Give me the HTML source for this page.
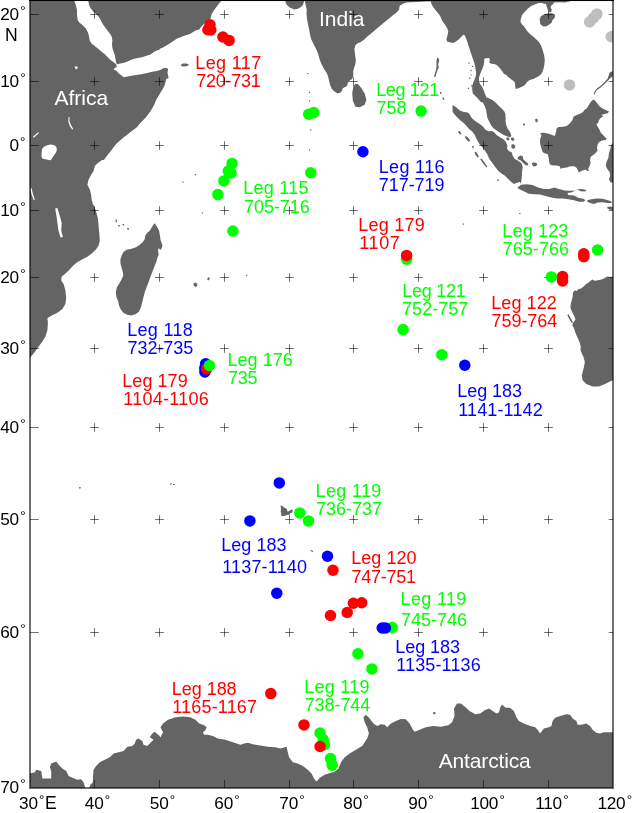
<!DOCTYPE html>
<html lang="en"><head><meta charset="utf-8"><title>ODP Indian Ocean drill sites</title>
<style>
html,body{margin:0;padding:0;background:#fff}
body{width:634px;height:813px;overflow:hidden}
svg{display:block}
text{font-family:"Liberation Sans",Arial,Helvetica,sans-serif;white-space:pre}
</style></head><body>
<svg width="634" height="813" viewBox="0 0 634 813">
<defs><clipPath id="c"><rect x="30" y="0" width="583" height="788"/></clipPath></defs>
<rect width="634" height="813" fill="#fff"/>
<g clip-path="url(#c)">
<path fill="#646464" fill-rule="evenodd" d="M286.5,4.4L289.7,7.6L294.1,9.5L297.9,8.8L301,6.9L302.9,5L303.9,1.9L304.2,-2L284.6,-2L285.3,1.3ZM210.4,18.7L211.7,13.7L214.2,10L217.9,5L220.9,1.2L220.9,-2L159.8,-2L158,-2L88.4,-2L88.4,1.3L89,5L90.9,8.8L93.4,11.4L96,13.9L98.5,16.4L100.4,19.6L102.3,23.3L104.8,27.1L107.3,30.3L109.8,33.4L111.7,36.6L112.4,40.4L112,44.2L112.4,48L113.6,51.7L114.9,55.5L115.5,59.3L116.2,62.5L116.8,64.3L119.3,63.7L123.1,63.1L126.9,61.8L130.7,59.9L134.4,58.7L140,57.4L141,57.5L145.8,56L150.5,54.4L153.8,52.1L156.8,50.5L158,49.8L158,50.3L159.8,49.4L159.8,48.7L163,47.4L168,44.4L173,41.2L176.7,38.7L183,36.2L190.4,33.7L195.4,30.4L199.2,29.5L201.7,26.2L205.4,22.5ZM180.5,64.9L182.5,66.4L186.7,66.2L189.2,64.9L186.7,63.6L183,63.6ZM307.2,73L307.2,74.2L308.4,74.2L308.4,73ZM31.2,356.3L35,351.8L38.7,346.5L42.4,341.5L45.4,336.6L47.4,330.3L47.9,322.8L47.4,318.3L51.2,315.8L57.4,312.8L62.4,309.1L65.4,304.1L66.2,297.9L65.4,290.4L63.6,284.1L61.2,280.4L61.7,276.6L64.9,274.1L68.7,270.4L72.4,266.6L76.1,262.9L81.1,259.9L87.4,256.7L92.4,252.9L96.1,249.2L98.6,245.4L99.8,240.4L99.3,233L98.6,225.5L97.8,218L96.1,211.7L94.4,206.7L92.4,203L92.4,201L91.9,201L91.1,194.7L89.9,189.7L87.4,184.7L88.6,179.7L91.1,174.7L93.6,171L94.9,166L97.3,163.5L102,160L103.9,160L105.5,157.8L107.9,154.6L111,150.7L113.4,147.5L116.6,143.6L119.7,140.8L122.9,138.1L126.8,134.9L130.8,131.8L133.9,129.4L137.1,127L139.4,123.9L142.6,120.7L145.7,117.6L148.1,114.4L150.8,110.8L152.8,107.3L154.4,104.2L156,100.2L158.4,96.3L160.7,92.3L163.1,88.4L164.7,85.2L165.5,82.1L166.2,78.9L168.6,78.1L168.1,75.8L167.5,72.6L168.1,69.5L167,67.9L163.9,67.9L160.7,69.8L156.8,71L152.1,71.8L147.3,72.9L141,74.2L136.3,75L131.6,75.8L127.6,76.6L123.7,77.3L118.9,73.4L115.8,70.2L113.6,69.9L115.2,67.5L116.1,67.5L116.8,66.9L116.2,64.3L113,61.8L110.5,59.9L108,57.4L104.8,54.3L101.6,51.7L97.8,48.6L94.1,45.4L91.5,43.5L89.7,40.4L89,36L87.8,32.2L85.9,28.4L82.7,25.2L79.6,22.7L77.7,20.2L77,15.1L77,10.1L75.8,5L74.5,1.3L74.5,-2L70,-2L30,-2L30,358.2ZM74.4,66.4L77.9,66.4L77.4,68.4L75.9,69.4ZM68.3,121.5L68.5,117L69.5,117L69.4,120.8L70.7,124.6L73,128.4L72.4,129.7L69.8,125.9ZM33.8,137.8L33,136.8L38.1,132.3L38.9,133.1ZM42,149.2L43.9,146.7L47.1,145.2L50.9,144.4L54.6,145.2L56.5,147.3L56.8,150.5L55.3,153.6L53.4,156.2L52.1,158.3L50.9,160.3L48.3,159.9L45.8,159.3L42.7,158.7L41.4,156.2L41.7,152.4ZM31.6,194.6L30.3,188.3L31.6,188.3L32.8,193.4L34.8,199.7L33.6,199.9ZM56.4,215.5L55.2,208.5L57.4,208L59.7,215.5L61.7,223L61.2,230.5L62.9,236.7L60.7,237.7L58.4,230.5L57.4,223ZM194.8,175.3L196,175.3L196,174.1L194.8,174.1ZM182.4,182.8L183.6,182.8L183.6,181.6L182.4,181.6ZM201.8,212.4L201.8,213.6L203,213.6L203,212.4ZM115.4,219.4L115.8,222.6L117,222.3L116.7,219.4ZM122.5,224.1L122.7,225.6L124.2,225.6L124,224.1ZM118.2,226.4L119.7,226.4L119.7,225.1L118.2,225.1ZM127.3,229.6L128.8,229.9L128.8,228.1L127,227.9ZM123.3,252.2L121.7,255.4L120.4,259.2L120.4,262.9L121.5,267.4L122.7,271.8L123.3,275.6L121.5,279.4L119.6,283.1L117,286.9L115.8,292L116.4,297L118.3,301.4L118.9,305.2L120.8,309.6L123.3,312.8L127.1,314.7L131.6,315.4L136,314.1L139.1,311.5L141,307.1L142.3,302.1L143.5,297L144.8,292L146.7,286.9L148.6,281.9L150.5,276.8L152.4,271.8L154.3,266.7L156.2,262.3L157.4,257.9L158.7,254.1L158,251L158.7,248.1L160.3,250.1L161.6,248.4L162.5,245.3L160.6,240.2L159.9,235.2L159.1,230.8L156.8,226.4L154.9,223.2L153.6,224.5L151.7,227.6L149.8,230.8L147.3,232.7L145.4,235.2L144.8,239L142.9,242.1L139.8,244.7L136,247.2L131.6,248.8L126.5,249.7ZM246,274.8L246,276L247.2,276L247.2,274.8ZM206.9,278.9L208.7,280.4L209.9,278.6L208.9,277.1ZM193.7,285.6L195.4,286.9L197.2,285.9L197.4,283.9L195.4,282.6L193.4,283.4ZM170,483.6L170,484.6L172,484.6L172,483.6ZM173,484.1L173,484.9L174.7,484.9L174.7,484.1ZM79.1,486.9L79.1,488.4L80.6,488.4L80.6,486.9ZM292.1,512.7L292.9,510.8L292.1,509.6L290.5,510L288.9,511.2L287.4,511.6L287,509.2L285.4,508L283.8,507.6L282.6,506L280.6,505.6L281,509.2L280.6,512L281.4,513.1L281,515.1L281.8,516.3L283.4,515.9L285.4,515.7L287,514.7L288.5,515.1L289.7,514.3L290.5,513.1ZM287.8,752.3L286.6,746.8L280.3,748.5L275.3,747.3L267.8,746.8L260.4,745.5L252.9,744.3L247.9,742.8L244.1,743.5L240.4,744.8L232.9,742.3L225.4,739.8L217.9,738.6L212.9,736.1L207.9,734.8L204.2,734.8L202.9,732.3L205.4,730.3L206.7,727.3L204.2,725.3L199.2,723.6L195.4,719.8L190.4,717.3L183,716.6L175.5,717.3L168,719.8L163,723.6L160.5,727.3L163,732.3L160.5,737.3L159.8,736.9L159.8,736.1L158,734.8L154.8,731.8L152.3,733.6L149.8,737.3L153.5,739.8L151,742.3L147.3,746L143.5,744.8L142.3,741L138.5,738.6L136.1,739.8L134.8,743.5L132.3,746L127.3,746.8L123.6,751L118.6,752.3L113.6,753.5L109.8,757.3L104.8,759.8L99.8,762.3L96.1,766L93.6,769.8L92.9,777.2L92.9,782.2L90.4,784.7L89.2,788L613,788L613,732.3L608.8,732.3L603.8,732.3L600.1,733.6L596.3,732.8L592.6,729.8L590.1,726.1L586.3,723.6L581.3,724.8L577.6,724.8L576.4,721.1L572.6,718.6L570.1,714.8L566.4,714.3L560.1,716.1L555.1,717.8L552.6,721.1L551.4,726.1L548.9,727.3L543.9,728.6L540.1,733.6L537.6,729.8L535.2,727.3L530.2,726.1L523.9,723.6L518.9,721.1L516.4,717.3L513.9,711.1L510.2,708.1L505.2,707.4L502,704.4L500.2,707.4L499,712.4L496.5,713.6L492.7,711.1L489,708.6L485.2,709.9L480.2,713.6L475.4,714.2L474,713.6L469.5,711.1L465.8,707.4L460.8,703.6L457,703.6L454,708.6L454.5,716.1L452.1,722.3L448.3,725.3L440.8,726.8L433.3,726.1L425.8,727.3L419.6,729.8L414.6,731.8L412.1,728.6L409.6,723.6L405.9,719.3L400.9,719.1L395.9,721.1L390.9,723.6L387.1,727.3L384.6,724.8L380.9,724.3L377.2,726.1L373.4,723.6L369.7,718.6L365.9,714.8L363.4,717.3L364.7,722.3L367.2,727.3L368.9,733.6L367.2,738.6L364.7,742.3L362.2,746L355.9,749.8L349.7,753.5L344.7,757.3L341,762.3L338.5,768.5L334.7,771.8L328.5,773.5L324.7,774.8L319.7,777.8L316.7,781.5L316,781L314,778.5L311.5,773.5L307.8,769.8L302.8,766L297.8,763.5L292.8,762.3L289.1,757.3ZM56.2,761.5L51.2,763.5L49.9,767.3L51.2,771L51.2,778.5L42.4,778.5L41.2,771L36.2,769.8L35,772.3L30,773.5L30,788L85.4,788L84.9,786.7L83.6,782.2L81.1,779.2L77.4,779.8L72.4,777.8L68.7,776L66.2,771L62.4,768.5L58.7,764.8ZM449.5,42.3L453.3,42.9L455.8,41.6L458.4,39.8L460.9,37.2L463.4,34.7L464.7,35.3L465.9,37.9L467.2,41.6L468.4,45.4L469.7,49.1L469.7,49.2L470.9,53L472.2,56.8L473.5,60.6L474.7,64.3L475.4,68.1L476,71.9L476,75.7L474.7,78.9L473.5,82L472.2,85.8L472.2,85.2L471,85.2L471,86.4L472.2,86.4L472.2,89.6L472.8,93.4L475.4,95.9L477.9,98.4L479.1,99.9L481,102.2L482.7,102.2L482.9,102.5L484.8,106.3L486.1,110.1L486.7,113.9L487.3,117.7L489.2,121.5L491.1,125.2L493,127.8L495.6,129.7L498.1,131.6L501.2,133.4L504.4,135.3L507.5,136.6L510.1,137.2L511.3,136L510.7,133.4L509.4,130.9L507.5,128.4L506.3,125.2L505.6,121.5L505.6,117.7L505.4,113.9L504.4,111.4L501.9,108.8L499.3,106.3L496.8,103.8L494.3,101.5L492.4,100L487.3,97.5L486.4,97.5L486.1,96.5L484.8,93.4L483.6,90.2L482.3,87.1L480.4,84.5L479.1,82L478.9,78.2L479.8,75.1L481,71.9L482.3,68.8L483.6,65.6L484.2,61.8L484.2,59.3L485.4,58.3L489.2,58L489.9,59.9L489.2,62.5L491.1,63.7L494.3,64.1L496.8,65L499.3,67.5L501.9,70.7L503.8,73.8L506.3,75.1L508.2,77L510.7,78.9L513.2,80.8L515.1,82.7L515.1,85.8L515.7,89L518.3,88.3L521.4,87.1L524.6,85.2L527.1,82L529.6,80.1L533.4,78.9L537.2,77L540.3,75.1L542.2,72.6L543.5,68.8L544.2,65.6L544.8,60.6L544.2,55.5L543.5,53L542.2,48.6L541,45.4L539.1,42.3L536.6,39.8L534,37.2L531.5,35.3L529,33.1L526.5,30.3L524.6,27.1L522,24.6L520.5,22.1L520.8,18.9L522,15.1L524.6,12L527.7,8.8L530.9,6.3L534.7,4.4L538.5,3.1L542.2,3.1L544,3.8L546,4L546.6,6.3L547.5,9.1L548.8,11.6L550.1,12.6L551.3,12L551.7,9.5L550.6,7.6L551.1,5.7L552.8,4.4L554.1,2.5L559.9,2.3L565,2.5L570,1.3L570,-2L304.8,-2L304.8,1.3L305.7,5L306.7,9.5L306.5,13.9L307,18.9L308,24L309,29L309.9,34.1L311.1,39.1L313.6,44.2L315.6,48L317.4,51.7L318.7,56.1L320,60.6L321.9,65L324.4,69.4L326.9,73.2L328.2,77L329.2,81.4L330.4,85.8L331.9,89L334.5,91.5L337.6,93.4L340.1,92.7L342,90.8L342.7,88.3L345.2,87.1L347.1,85.8L347.7,83.3L349.6,80.8L352.1,78.9L353.4,75.7L353.1,71.9L354,68.1L355.3,64.3L355.9,60.6L355.3,56.8L354.9,53L354.4,49.2L355.3,45.4L357.2,43.5L360.3,42.3L362.9,40.4L364,39.8L367.3,36.6L371.1,33.4L374.9,30.3L378.6,27.1L382.4,24L386.2,20.8L390,17.7L392.3,15.8L394,14.5L396.6,12.6L399.1,9.5L399.7,5.7L402.9,3.8L406.6,2.5L410.2,2.3L416.5,1.9L424.1,1.5L430.4,1.3L430.4,0.4L430.6,1.3L431.9,5L434.4,8.8L437.5,12.6L440.1,15.8L441.9,20.2L444.5,24L447,27.8L448.3,31.6L447.6,35.3L446.4,39.1L447,41.6ZM468.4,62.5L468.4,63.7L469.6,63.7L469.6,62.5ZM471.9,65.9L471.9,67.1L473.1,67.1L473.1,65.9ZM438.4,58L437.1,57.8L436.4,61.8L436.6,65.6L436.1,69.7L434.9,73.2L434.1,76.7L435.4,77.2L436.4,73.4L437.4,70.4L438.7,68.1L438.2,64.3L439.2,60.6ZM470.3,71.3L471.5,71.3L471.5,70.1L470.3,70.1ZM470.4,75.6L471.6,75.6L471.6,74.4L470.4,74.4ZM469.1,77.6L469.1,78.8L470.3,78.8L470.3,77.6ZM467.8,87.7L467.8,88.9L469,88.9L469,87.7ZM308.9,93L310.1,93L310.1,91.8L308.9,91.8ZM440.2,93.9L441.7,93.6L441.4,91.9L439.9,91.9ZM352.2,93.6L352.9,101.1L355.4,106.8L359.7,107.3L364.7,104.8L366.4,99.8L364.7,93.6L360.9,87.4L357.9,83.9L355.4,83.9L353.4,86.1ZM442.4,97.4L443,99.7L444.5,99.7L444,97.7ZM308.9,100.5L308.9,101.7L310.1,101.7L310.1,100.5ZM310.2,129.2L310.2,130.4L311.4,130.4L311.4,129.2ZM457.7,131.6L460.2,134.7L461.5,133.4L459.6,130.9ZM464.6,136.8L466.8,140.1L469.1,141.9L470.1,140.6L468.4,138.1L466.3,136.3ZM472.1,145.9L472.6,148.4L473.8,147.9L473.6,145.7ZM308.9,150.4L310.1,150.4L310.1,149.2L308.9,149.2ZM475.6,155L477.6,157.5L478.9,156.8L477.6,154L476,151.7L474.5,152.2ZM480.1,159.1L483.6,164.1L486.5,167.6L487.3,166.6L484.2,162.1L481.7,158.8ZM462.7,223.6L462.7,224.8L463.9,224.8L463.9,223.6ZM310.3,549.8L311,551.3L313.3,552.3L312.8,550.8ZM433.4,714.2L435.6,714L435.2,712L433,712.2ZM544,14.5L541,16.1L539.7,18.9L540.2,24L542.9,26.2L546,26.5L549.3,24.6L551.7,22.7L552.3,20.2L554.4,18.3L555.1,15.8L554.4,13.9L551.1,13.2L547.3,13.6ZM607.7,78.5L604.6,82L600.8,85.8L597,88.3L594.5,91.5L593.6,94.4L594.5,94.6L596.4,90.6L599.5,88.3L603.3,85.2L607.1,81.4L610.2,78.2L612.8,76.3L613,74.1L613,72.4L612.1,71.3L609.6,72.6L608.6,75.7ZM537.9,120.4L536.9,118.4L535.2,118.9L535.4,121.7L536.9,122.5ZM523,123.7L523.3,125.5L525.1,125.2L524.8,123.5ZM552.8,165.6L556.6,165.6L559.8,166.2L560.4,168.8L562.9,168.1L566.7,167.5L570.5,166.2L574.3,166.2L576.8,168.1L578.1,170.7L578.7,172.6L581.9,170.7L585.6,169.4L586.9,170.7L588.8,171.3L588.2,168.8L589.4,166.2L590.7,163.1L590.1,159.9L590.7,156.8L593.2,154.9L595.7,153L597.6,150.5L597,147.9L597.6,144.8L598.9,142.3L602,140.6L605.8,140.1L606.5,138.5L603.3,135.3L600.8,132.8L599.5,129.7L597.6,126.5L596.4,124L598.3,122.7L598.9,120.2L600.8,117.7L603.3,116.4L601.4,115.1L604.6,114.1L607.7,113.2L609,111.4L605.8,110.1L602,108.2L599.5,106.3L597.6,103.8L595.7,101.3L593.8,99.5L592.6,100L590.7,101.9L588.8,105L586.9,108.2L584.4,110.1L583.1,112L580.6,113.6L576.8,115.1L573.6,116.4L572.4,120.2L569.9,123.3L566.7,125.9L562.9,126.8L558.5,127.1L556.6,128.4L556,132.2L554.7,136L551.6,134.7L547.8,133.4L544,132.8L540.2,133.1L541.5,135.3L540.2,139.1L540,142.9L540.9,146.7L542.5,151.7L544,153L545.3,153.6L547.8,154.3L548.4,156.8L549,160.6L549.7,164.3ZM508.4,140.6L509.7,139.1L508.2,137.3L506.3,137.8L506.6,139.9ZM512.7,140.9L514.5,139.9L513.5,137.6L510.9,137.8L511.2,139.9ZM484.8,150.5L487.3,154.3L489.2,158.7L492.4,163.1L495.6,167.5L498.7,171.3L501.9,173.8L505,175.7L508.2,178.9L511.3,182L513.8,183.9L517,182.7L519.5,182L520.8,183.3L521.4,180.8L521.8,177L522,171.9L522.7,166.9L521.4,163.1L517.6,160.6L514.5,158.7L512.6,155.5L511.9,152.4L508.8,151.1L506.9,148.6L507.5,145.4L505.6,141.6L503.1,139.1L500,137.2L496.8,135.3L494.3,132.6L491.8,130.9L488.6,131.3L485.4,129.7L482.9,126.5L479.8,124L476.6,122.1L474.1,120.2L471.6,117.7L469.7,114.5L467.8,112.4L464,112L460.2,110.7L456.4,107.6L452.6,105L452.6,112L456.4,116.4L460.2,120.2L464,123.3L466.5,125.9L469.1,129L472.2,131.6L474.7,134.7L476.6,139.1L479.1,143.5L482.3,147.3ZM513.5,149L515.5,146.9L514.2,144.2L511.4,144.4L511.4,147.7ZM517.6,159.3L520.1,159.9L522.7,162.5L525.2,165L527.7,165.6L528.4,163.7L525.8,161.8L523.3,159.3L522.7,156.2L520.1,155.5L517.6,157.4ZM612.8,182.7L613,182.7L613,142.8L612.8,142.9L610.9,145.4L610.2,149.2L609,153L608.4,158L606.5,161.8L605.8,165.6L607.1,168.8L609.6,171.9L610.2,175.7L609,179.5L610.2,182ZM533.4,166.4L536.2,166.1L537.4,164.3L535.9,162.7L533.1,162.5L531.6,163.7ZM497.1,179.5L497.3,181L498.8,180.8L498.6,179.2ZM585.4,191.6L586.3,190.1L581.6,188.9L576.9,189.3L580.7,191.2ZM578.8,201.8L583.5,201.8L585.4,200.3L583.5,198.8L578.8,198L574,195.6L568.4,195L567.4,193.1L572.1,192.3L575,190.4L570.2,190.8L564.6,190.4L558.9,188.9L554.2,187.4L549.4,188.9L543.8,188.9L538.1,187.4L532.4,185.1L526.7,184.2L521,184.8L517.2,188L521,189.9L524.8,191.8L528.6,193.7L534.3,194.2L540,194.6L545.6,196.1L551.3,197.4L557,198.4L562.7,198.4L568.4,199.3L574,200.3ZM587.3,200.3L587.3,201.8L590.1,203.1L593.9,204.1L597.7,202.6L602.4,202.2L607.2,203.1L611.9,203.1L611,201.2L607.2,199.9L602.4,198.8L596.8,198.4L591.1,199.3ZM607.5,208.6L610,209.8L613,210.1L613,207.3L610,206.5L607.2,207.1ZM519.1,213L519.1,214.1L520.5,214.1L520.5,213ZM567.4,315.3L569.4,319.3L571.9,323.3L572.9,322.3L570.7,318.3L568.4,314ZM583.6,286.5L581.1,288.4L578.6,289L576.7,290.9L574.8,290.3L572.9,292.8L572.7,296.6L571.7,300.4L570.7,304.2L570.4,307.3L571.4,310.5L572.9,313.6L574.2,316.1L575.5,319.3L574.2,321.2L572.9,323.1L572.3,325.6L573.6,327.5L574.8,330.7L576.1,334.4L577.3,337L578.6,340.1L579.9,343.3L580.8,347.1L580.5,350.2L581.8,353.4L583.3,356.5L584.3,359.9L584.8,361.9L583.8,367.8L581.8,375.2L582.6,380.2L586.3,384L592.6,386.5L598.8,386.5L605,384L610,381.5L613,380.2L613,276.6L612.7,276.7L609.5,277L607,276.4L604.5,278.3L601.3,279.6L598.2,280.2L594.4,280.8L592.5,279.6L590.6,280.8L588.1,282.7L585.5,284.6Z"/>
</g>
<text x="195.26" y="69" fill="#ff0000" font-size="18" textLength="65.9" lengthAdjust="spacing">Leg 117</text>
<text x="196.2" y="87" fill="#ff0000" font-size="18" textLength="64.6" lengthAdjust="spacing">720-731</text>
<text x="376.13" y="96" fill="#00ff00" font-size="18" textLength="63.12" lengthAdjust="spacing">Leg 121</text>
<text x="376.51" y="114" fill="#00ff00" font-size="18" textLength="29.94" lengthAdjust="spacing">758</text>
<text x="378.69" y="173" fill="#0000ff" font-size="18" textLength="65.83" lengthAdjust="spacing">Leg 116</text>
<text x="378.71" y="191" fill="#0000ff" font-size="18" textLength="65.89" lengthAdjust="spacing">717-719</text>
<text x="243.34" y="194" fill="#00ff00" font-size="18" textLength="65.19" lengthAdjust="spacing">Leg 115</text>
<text x="244.03" y="213" fill="#00ff00" font-size="18" textLength="65.69" lengthAdjust="spacing">705-716</text>
<text x="358.24" y="231" fill="#ff0000" font-size="18" textLength="66.55" lengthAdjust="spacing">Leg 179</text>
<text x="359.22" y="249" fill="#ff0000" font-size="18" textLength="40.64" lengthAdjust="spacing">1107</text>
<text x="502.34" y="237" fill="#00ff00" font-size="18" textLength="66.01" lengthAdjust="spacing">Leg 123</text>
<text x="502.54" y="255" fill="#00ff00" font-size="18" textLength="66.6" lengthAdjust="spacing">765-766</text>
<text x="402.34" y="297" fill="#00ff00" font-size="18" textLength="63.32" lengthAdjust="spacing">Leg 121</text>
<text x="402.06" y="315" fill="#00ff00" font-size="18" textLength="66.31" lengthAdjust="spacing">752-757</text>
<text x="491.26" y="309" fill="#ff0000" font-size="18" textLength="65.46" lengthAdjust="spacing">Leg 122</text>
<text x="491.45" y="327" fill="#ff0000" font-size="18" textLength="65.86" lengthAdjust="spacing">759-764</text>
<text x="127.23" y="336" fill="#0000ff" font-size="18" textLength="65.51" lengthAdjust="spacing">Leg 118</text>
<text x="127.39" y="354" fill="#0000ff" font-size="18" textLength="65.98" lengthAdjust="spacing">732-735</text>
<text x="227.49" y="365.5" fill="#00ff00" font-size="18" textLength="65.25" lengthAdjust="spacing">Leg 176</text>
<text x="228.06" y="383.5" fill="#00ff00" font-size="18" textLength="29.57" lengthAdjust="spacing">735</text>
<text x="122.26" y="387" fill="#ff0000" font-size="18" textLength="65.43" lengthAdjust="spacing">Leg 179</text>
<text x="123.23" y="405" fill="#ff0000" font-size="18" textLength="85.65" lengthAdjust="spacing">1104-1106</text>
<text x="457.23" y="397" fill="#0000ff" font-size="18" textLength="64.82" lengthAdjust="spacing">Leg 183</text>
<text x="458.17" y="416" fill="#0000ff" font-size="18" textLength="84.54" lengthAdjust="spacing">1141-1142</text>
<text x="315.56" y="497" fill="#00ff00" font-size="18" textLength="65.72" lengthAdjust="spacing">Leg 119</text>
<text x="316.03" y="515" fill="#00ff00" font-size="18" textLength="66.06" lengthAdjust="spacing">736-737</text>
<text x="221.23" y="551" fill="#0000ff" font-size="18" textLength="65.36" lengthAdjust="spacing">Leg 183</text>
<text x="222.17" y="572.5" fill="#0000ff" font-size="18" textLength="84.8" lengthAdjust="spacing">1137-1140</text>
<text x="351.26" y="564" fill="#ff0000" font-size="18" textLength="65.26" lengthAdjust="spacing">Leg 120</text>
<text x="351.45" y="583" fill="#ff0000" font-size="18" textLength="64.45" lengthAdjust="spacing">747-751</text>
<text x="400.56" y="605" fill="#00ff00" font-size="18" textLength="65.72" lengthAdjust="spacing">Leg 119</text>
<text x="401.03" y="626" fill="#00ff00" font-size="18" textLength="65.99" lengthAdjust="spacing">745-746</text>
<text x="395.23" y="653" fill="#0000ff" font-size="18" textLength="64.82" lengthAdjust="spacing">Leg 183</text>
<text x="396.17" y="671" fill="#0000ff" font-size="18" textLength="84.59" lengthAdjust="spacing">1135-1136</text>
<text x="171.76" y="694.5" fill="#ff0000" font-size="18" textLength="64.87" lengthAdjust="spacing">Leg 188</text>
<text x="172.22" y="713" fill="#ff0000" font-size="18" textLength="84.81" lengthAdjust="spacing">1165-1167</text>
<text x="304.29" y="693" fill="#00ff00" font-size="18" textLength="65.25" lengthAdjust="spacing">Leg 119</text>
<text x="304.63" y="711" fill="#00ff00" font-size="18" textLength="65.66" lengthAdjust="spacing">738-744</text>
<text x="54.5" y="104.8" fill="#fff" font-size="21">Africa</text>
<text x="319" y="26" fill="#fff" font-size="21">India</text>
<text x="438.7" y="767.5" fill="#fff" font-size="21" letter-spacing="-0.15">Antarctica</text>
<text x="0.2" y="19.7" fill="#000" font-size="17.2" letter-spacing="-0.25">20<tspan font-size="13.5" dy="-4.8" dx="1.3">°</tspan></text>
<text x="0.2" y="86.7" fill="#000" font-size="17.2" letter-spacing="-0.25">10<tspan font-size="13.5" dy="-4.8" dx="1.3">°</tspan></text>
<text x="9.4" y="150.7" fill="#000" font-size="17.2" letter-spacing="-0.25">0<tspan font-size="13.5" dy="-4.8" dx="1.3">°</tspan></text>
<text x="0.2" y="215.7" fill="#000" font-size="17.2" letter-spacing="-0.25">10<tspan font-size="13.5" dy="-4.8" dx="1.3">°</tspan></text>
<text x="0.2" y="282.7" fill="#000" font-size="17.2" letter-spacing="-0.25">20<tspan font-size="13.5" dy="-4.8" dx="1.3">°</tspan></text>
<text x="0.2" y="353.7" fill="#000" font-size="17.2" letter-spacing="-0.25">30<tspan font-size="13.5" dy="-4.8" dx="1.3">°</tspan></text>
<text x="0.2" y="432.7" fill="#000" font-size="17.2" letter-spacing="-0.25">40<tspan font-size="13.5" dy="-4.8" dx="1.3">°</tspan></text>
<text x="0.2" y="524.7" fill="#000" font-size="17.2" letter-spacing="-0.25">50<tspan font-size="13.5" dy="-4.8" dx="1.3">°</tspan></text>
<text x="0.2" y="637.7" fill="#000" font-size="17.2" letter-spacing="-0.25">60<tspan font-size="13.5" dy="-4.8" dx="1.3">°</tspan></text>
<text x="0.2" y="793.2" fill="#000" font-size="17.2" letter-spacing="-0.25">70<tspan font-size="13.5" dy="-4.8" dx="1.3">°</tspan></text>
<text x="5" y="41" fill="#000" font-size="19.2" textLength="12.7" lengthAdjust="spacingAndGlyphs">N</text>
<text x="19.1" y="809" fill="#000" font-size="17.2" letter-spacing="-0.25">30<tspan font-size="13.5" dy="-4.8" dx="1.3">°</tspan><tspan dy="4.8" dx="0.8" font-size="17.5">E</tspan></text>
<text x="84.85" y="809" fill="#000" font-size="17.2" letter-spacing="-0.25">40<tspan font-size="13.5" dy="-4.8" dx="1.3">°</tspan></text>
<text x="149.85" y="809" fill="#000" font-size="17.2" letter-spacing="-0.25">50<tspan font-size="13.5" dy="-4.8" dx="1.3">°</tspan></text>
<text x="214.35" y="809" fill="#000" font-size="17.2" letter-spacing="-0.25">60<tspan font-size="13.5" dy="-4.8" dx="1.3">°</tspan></text>
<text x="279.35" y="809" fill="#000" font-size="17.2" letter-spacing="-0.25">70<tspan font-size="13.5" dy="-4.8" dx="1.3">°</tspan></text>
<text x="343.35" y="809" fill="#000" font-size="17.2" letter-spacing="-0.25">80<tspan font-size="13.5" dy="-4.8" dx="1.3">°</tspan></text>
<text x="408.35" y="809" fill="#000" font-size="17.2" letter-spacing="-0.25">90<tspan font-size="13.5" dy="-4.8" dx="1.3">°</tspan></text>
<text x="470.2" y="809" fill="#000" font-size="17.2" letter-spacing="-0.25">100<tspan font-size="13.5" dy="-4.8" dx="1.3">°</tspan></text>
<text x="535.2" y="809" fill="#000" font-size="17.2" letter-spacing="-0.25">110<tspan font-size="13.5" dy="-4.8" dx="1.3">°</tspan></text>
<text x="597.4" y="809" fill="#000" font-size="17.2" letter-spacing="-0.25">120<tspan font-size="13.5" dy="-4.8" dx="1.3">°</tspan></text>
<path d="M90.2,14.5h8.6M94.5,10.2v8.6M90.2,81.5h8.6M94.5,77.2v8.6M90.2,145.5h8.6M94.5,141.2v8.6M90.2,210.5h8.6M94.5,206.2v8.6M90.2,277.5h8.6M94.5,273.2v8.6M90.2,348.5h8.6M94.5,344.2v8.6M90.2,427.5h8.6M94.5,423.2v8.6M90.2,519.5h8.6M94.5,515.2v8.6M90.2,632.5h8.6M94.5,628.2v8.6M155.2,14.5h8.6M159.5,10.2v8.6M155.2,81.5h8.6M159.5,77.2v8.6M155.2,145.5h8.6M159.5,141.2v8.6M155.2,210.5h8.6M159.5,206.2v8.6M155.2,277.5h8.6M159.5,273.2v8.6M155.2,348.5h8.6M159.5,344.2v8.6M155.2,427.5h8.6M159.5,423.2v8.6M155.2,519.5h8.6M159.5,515.2v8.6M155.2,632.5h8.6M159.5,628.2v8.6M220.2,14.5h8.6M224.5,10.2v8.6M220.2,81.5h8.6M224.5,77.2v8.6M220.2,145.5h8.6M224.5,141.2v8.6M220.2,210.5h8.6M224.5,206.2v8.6M220.2,277.5h8.6M224.5,273.2v8.6M220.2,348.5h8.6M224.5,344.2v8.6M220.2,427.5h8.6M224.5,423.2v8.6M220.2,519.5h8.6M224.5,515.2v8.6M220.2,632.5h8.6M224.5,628.2v8.6M285.2,14.5h8.6M289.5,10.2v8.6M285.2,81.5h8.6M289.5,77.2v8.6M285.2,145.5h8.6M289.5,141.2v8.6M285.2,210.5h8.6M289.5,206.2v8.6M285.2,277.5h8.6M289.5,273.2v8.6M285.2,348.5h8.6M289.5,344.2v8.6M285.2,427.5h8.6M289.5,423.2v8.6M285.2,519.5h8.6M289.5,515.2v8.6M285.2,632.5h8.6M289.5,628.2v8.6M349.2,14.5h8.6M353.5,10.2v8.6M349.2,81.5h8.6M353.5,77.2v8.6M349.2,145.5h8.6M353.5,141.2v8.6M349.2,210.5h8.6M353.5,206.2v8.6M349.2,277.5h8.6M353.5,273.2v8.6M349.2,348.5h8.6M353.5,344.2v8.6M349.2,427.5h8.6M353.5,423.2v8.6M349.2,519.5h8.6M353.5,515.2v8.6M349.2,632.5h8.6M353.5,628.2v8.6M414.2,14.5h8.6M418.5,10.2v8.6M414.2,81.5h8.6M418.5,77.2v8.6M414.2,145.5h8.6M418.5,141.2v8.6M414.2,210.5h8.6M418.5,206.2v8.6M414.2,277.5h8.6M418.5,273.2v8.6M414.2,348.5h8.6M418.5,344.2v8.6M414.2,427.5h8.6M418.5,423.2v8.6M414.2,519.5h8.6M418.5,515.2v8.6M414.2,632.5h8.6M418.5,628.2v8.6M479.2,14.5h8.6M483.5,10.2v8.6M479.2,81.5h8.6M483.5,77.2v8.6M479.2,145.5h8.6M483.5,141.2v8.6M479.2,210.5h8.6M483.5,206.2v8.6M479.2,277.5h8.6M483.5,273.2v8.6M479.2,348.5h8.6M483.5,344.2v8.6M479.2,427.5h8.6M483.5,423.2v8.6M479.2,519.5h8.6M483.5,515.2v8.6M479.2,632.5h8.6M483.5,628.2v8.6M544.2,14.5h8.6M548.5,10.2v8.6M544.2,81.5h8.6M548.5,77.2v8.6M544.2,145.5h8.6M548.5,141.2v8.6M544.2,210.5h8.6M548.5,206.2v8.6M544.2,277.5h8.6M548.5,273.2v8.6M544.2,348.5h8.6M548.5,344.2v8.6M544.2,427.5h8.6M548.5,423.2v8.6M544.2,519.5h8.6M548.5,515.2v8.6M544.2,632.5h8.6M548.5,628.2v8.6M608.7,14.5h4.3M608.7,81.5h4.3M608.7,145.5h4.3M608.7,210.5h4.3M608.7,277.5h4.3M608.7,348.5h4.3M608.7,427.5h4.3M608.7,519.5h4.3M608.7,632.5h4.3M30,14.5h8.8M30,81.5h8.8M30,145.5h8.8M30,210.5h8.8M30,277.5h8.8M30,348.5h8.8M30,427.5h8.8M30,519.5h8.8M30,632.5h8.8M94.5,788v-8M159.5,788v-8M224.5,788v-8M289.5,788v-8M353.5,788v-8M418.5,788v-8M483.5,788v-8M548.5,788v-8" stroke="#000" stroke-opacity="0.56" stroke-width="1" fill="none"/>
<g clip-path="url(#c)">
<circle cx="589.7" cy="21.9" r="5.75" fill="#bebebe"/>
<circle cx="593.4" cy="18" r="5.75" fill="#bebebe"/>
<circle cx="596.9" cy="14.1" r="5.75" fill="#bebebe"/>
<circle cx="611.3" cy="36.8" r="5.75" fill="#bebebe"/>
<circle cx="569.5" cy="84.9" r="5.75" fill="#bebebe"/>
<circle cx="232.05" cy="163.4" r="5.75" fill="#00ff00"/>
<circle cx="228.3" cy="171.1" r="5.75" fill="#00ff00"/>
<circle cx="231.1" cy="173" r="5.75" fill="#00ff00"/>
<circle cx="223.9" cy="180.9" r="5.75" fill="#00ff00"/>
<circle cx="217.9" cy="194.6" r="5.75" fill="#00ff00"/>
<circle cx="232.9" cy="231" r="5.75" fill="#00ff00"/>
<circle cx="308.7" cy="114.2" r="5.75" fill="#00ff00"/>
<circle cx="313.8" cy="112.6" r="5.75" fill="#00ff00"/>
<circle cx="310.8" cy="172.8" r="5.75" fill="#00ff00"/>
<circle cx="421.1" cy="111.1" r="5.75" fill="#00ff00"/>
<circle cx="362.9" cy="151.8" r="5.75" fill="#0000ff"/>
<circle cx="210" cy="24.7" r="5.75" fill="#ff0000"/>
<circle cx="207.9" cy="29.7" r="5.75" fill="#ff0000"/>
<circle cx="210.8" cy="30" r="5.75" fill="#ff0000"/>
<circle cx="222.9" cy="37" r="5.75" fill="#ff0000"/>
<circle cx="229.1" cy="40.4" r="5.75" fill="#ff0000"/>
<circle cx="406.6" cy="259.2" r="5.75" fill="#00ff00"/>
<circle cx="406.6" cy="255.4" r="5.75" fill="#ff0000"/>
<circle cx="403.1" cy="329.6" r="5.75" fill="#00ff00"/>
<circle cx="441.8" cy="354.8" r="5.75" fill="#00ff00"/>
<circle cx="464.8" cy="365.3" r="5.75" fill="#0000ff"/>
<circle cx="597.6" cy="249.9" r="5.75" fill="#00ff00"/>
<circle cx="583.8" cy="253.7" r="5.75" fill="#ff0000"/>
<circle cx="583.8" cy="256.7" r="5.75" fill="#ff0000"/>
<circle cx="551.4" cy="276.9" r="5.75" fill="#00ff00"/>
<circle cx="562.6" cy="276.6" r="5.75" fill="#ff0000"/>
<circle cx="562.6" cy="280.9" r="5.75" fill="#ff0000"/>
<circle cx="205.6" cy="363.8" r="5.75" fill="#0000ff"/>
<circle cx="204.8" cy="368" r="5.75" fill="#0000ff"/>
<circle cx="204.9" cy="372" r="5.75" fill="#0000ff"/>
<circle cx="206.6" cy="368.9" r="5.75" fill="#ff0000"/>
<circle cx="209.4" cy="365.5" r="5.75" fill="#00ff00"/>
<circle cx="279.3" cy="482.9" r="5.75" fill="#0000ff"/>
<circle cx="249.9" cy="520.9" r="5.75" fill="#0000ff"/>
<circle cx="299.8" cy="512.9" r="5.75" fill="#00ff00"/>
<circle cx="308.5" cy="520.9" r="5.75" fill="#00ff00"/>
<circle cx="276.8" cy="593.3" r="5.75" fill="#0000ff"/>
<circle cx="327.5" cy="556.3" r="5.75" fill="#0000ff"/>
<circle cx="333" cy="570.3" r="5.75" fill="#ff0000"/>
<circle cx="330.5" cy="615.5" r="5.75" fill="#ff0000"/>
<circle cx="347.2" cy="612.5" r="5.75" fill="#ff0000"/>
<circle cx="353.4" cy="603.3" r="5.75" fill="#ff0000"/>
<circle cx="361.7" cy="602.8" r="5.75" fill="#ff0000"/>
<circle cx="392.2" cy="627.5" r="5.75" fill="#00ff00"/>
<circle cx="382.2" cy="628" r="5.75" fill="#0000ff"/>
<circle cx="385.4" cy="628" r="5.75" fill="#0000ff"/>
<circle cx="357.9" cy="653.7" r="5.75" fill="#00ff00"/>
<circle cx="371.9" cy="668.9" r="5.75" fill="#00ff00"/>
<circle cx="270.8" cy="693.6" r="5.75" fill="#ff0000"/>
<circle cx="304" cy="724.9" r="5.75" fill="#ff0000"/>
<circle cx="320" cy="733" r="5.75" fill="#00ff00"/>
<circle cx="323.2" cy="739.5" r="5.75" fill="#00ff00"/>
<circle cx="324.4" cy="744.8" r="5.75" fill="#00ff00"/>
<circle cx="320.1" cy="746.5" r="5.75" fill="#ff0000"/>
<circle cx="330.5" cy="758.6" r="5.75" fill="#00ff00"/>
<circle cx="332.2" cy="765.3" r="5.75" fill="#00ff00"/>
</g>
<path d="M30,0V788H613V0" stroke="#000" stroke-opacity="0.56" stroke-width="2" fill="none" stroke-linejoin="miter"/>
<rect x="29" y="0" width="585" height="1.05" fill="#000"/>
</svg>
</body></html>
